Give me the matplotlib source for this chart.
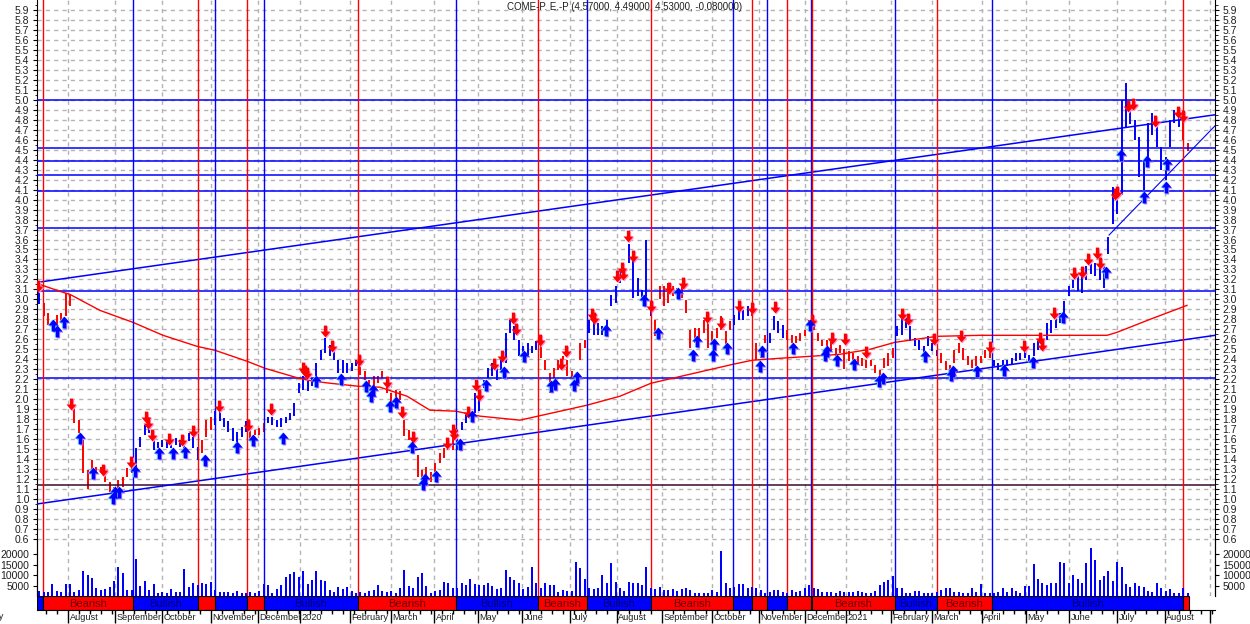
import numpy as np
import matplotlib
matplotlib.use('Agg')
import matplotlib.pyplot as plt
from matplotlib.path import Path
import matplotlib.transforms as mtransforms

plt.rcParams['font.family'] = ['Liberation Sans', 'DejaVu Sans']

title = 'COME-P. E.-P (4.57000, 4.49000, 4.53000, -0.080000)'

# one bar every 2 trading days (low / high)
bar_lo = [2.95, 2.83, 2.74, 2.71, 2.74, 2.78, 2.83, 2.93, 1.76, 1.66,
          1.26, 1.10, 1.22, 1.26, 1.26, 1.17, 1.07, 1.06, 1.09, 1.12,
          1.22, 1.26, 1.32, 1.52, 1.64, 1.66, 1.49, 1.51, 1.52, 1.51,
          1.51, 1.54, 1.52, 1.49, 1.58, 1.51, 1.39, 1.46, 1.62, 1.69,
          1.74, 1.78, 1.72, 1.67, 1.58, 1.56, 1.62, 1.67, 1.59, 1.64,
          1.64, 1.67, 1.76, 1.74, 1.72, 1.72, 1.76, 1.79, 1.83, 2.06,
          2.09, 2.08, 2.13, 2.23, 2.39, 2.46, 2.43, 2.39, 2.26, 2.26,
          2.26, 2.28, 2.33, 2.24, 2.19, 2.13, 2.13, 2.16, 2.21, 2.06,
          1.93, 2.01, 1.99, 1.63, 1.59, 1.53, 1.22, 1.14, 1.19, 1.17,
          1.26, 1.36, 1.41, 1.49, 1.49, 1.49, 1.69, 1.76, 1.81, 1.86,
          1.88, 2.11, 2.21, 2.23, 2.19, 2.29, 2.36, 2.66, 2.59, 2.43,
          2.39, 2.44, 2.46, 2.49, 2.41, 2.29, 2.06, 2.21, 2.29, 2.29,
          2.23, 2.21, 2.16, 2.39, 2.51, 2.66, 2.64, 2.64, 2.64, 2.66,
          2.93, 2.96, 3.16, 3.19, 3.36, 3.01, 3.03, 2.99, 3.00, 2.83,
          2.63, 3.00, 2.93, 2.96, 3.03, 3.03, 3.01, 2.86, 2.51, 2.56,
          2.61, 2.66, 2.51, 2.54, 2.61, 2.69, 2.53, 2.69, 2.74, 2.79,
          2.79, 2.83, 2.83, 2.39, 2.41, 2.56, 2.56, 2.69, 2.66, 2.61,
          2.59, 2.56, 2.56, 2.58, 2.63, 2.69, 2.69, 2.58, 2.53, 2.46,
          2.48, 2.39, 2.46, 2.30, 2.38, 2.36, 2.36, 2.33, 2.31, 2.33,
          2.26, 2.23, 2.31, 2.33, 2.41, 2.63, 2.64, 2.71, 2.58, 2.53,
          2.49, 2.39, 2.53, 2.48, 2.43, 2.36, 2.29, 2.26, 2.36, 2.46,
          2.39, 2.34, 2.31, 2.33, 2.36, 2.41, 2.41, 2.33, 2.29, 2.29,
          2.33, 2.34, 2.38, 2.39, 2.41, 2.38, 2.43, 2.49, 2.53, 2.59,
          2.66, 2.71, 2.76, 2.86, 3.03, 3.11, 3.08, 3.06, 3.19, 3.25,
          3.23, 3.19, 3.11, 3.45, 3.76, 3.86, 4.05, 4.73, 4.76, 4.60,
          4.23, 4.10, 4.40, 4.65, 4.53, 4.30, 4.20, 4.53, 4.77, 4.73,
          4.60, 4.49]
bar_hi = [3.12, 2.96, 2.86, 2.78, 2.84, 2.86, 3.06, 3.04, 1.92, 1.79,
          1.59, 1.29, 1.39, 1.32, 1.32, 1.29, 1.17, 1.12, 1.19, 1.22,
          1.31, 1.37, 1.51, 1.62, 1.74, 1.79, 1.59, 1.57, 1.59, 1.59,
          1.57, 1.61, 1.59, 1.56, 1.66, 1.62, 1.52, 1.59, 1.79, 1.82,
          1.88, 1.88, 1.81, 1.78, 1.71, 1.67, 1.72, 1.78, 1.69, 1.69,
          1.71, 1.76, 1.82, 1.82, 1.79, 1.81, 1.82, 1.86, 1.96, 2.16,
          2.23, 2.18, 2.21, 2.36, 2.49, 2.61, 2.54, 2.48, 2.39, 2.39,
          2.36, 2.36, 2.39, 2.33, 2.28, 2.19, 2.23, 2.23, 2.28, 2.14,
          2.06, 2.09, 2.08, 1.79, 1.69, 1.59, 1.44, 1.29, 1.32, 1.27,
          1.36, 1.46, 1.51, 1.59, 1.62, 1.69, 1.77, 1.86, 1.89, 2.06,
          2.11, 2.19, 2.31, 2.36, 2.33, 2.39, 2.66, 2.79, 2.73, 2.59,
          2.53, 2.56, 2.53, 2.58, 2.53, 2.39, 2.26, 2.31, 2.39, 2.43,
          2.39, 2.28, 2.26, 2.56, 2.59, 2.79, 2.78, 2.76, 2.73, 2.79,
          3.04, 3.13, 3.29, 3.29, 3.56, 3.46, 3.21, 3.09, 3.60, 2.94,
          2.79, 3.13, 3.13, 3.16, 3.13, 3.11, 3.13, 2.99, 2.69, 2.71,
          2.71, 2.79, 2.78, 2.68, 2.71, 2.83, 2.68, 2.78, 2.84, 2.89,
          2.89, 2.93, 2.90, 2.56, 2.49, 2.64, 2.66, 2.83, 2.78, 2.74,
          2.69, 2.64, 2.63, 2.66, 2.69, 2.79, 2.76, 2.66, 2.59, 2.59,
          2.58, 2.51, 2.54, 2.50, 2.48, 2.46, 2.43, 2.41, 2.39, 2.39,
          2.34, 2.29, 2.41, 2.46, 2.51, 2.73, 2.80, 2.81, 2.73, 2.61,
          2.59, 2.53, 2.63, 2.56, 2.49, 2.46, 2.38, 2.34, 2.49, 2.56,
          2.51, 2.43, 2.39, 2.43, 2.43, 2.49, 2.51, 2.39, 2.36, 2.39,
          2.39, 2.41, 2.46, 2.46, 2.48, 2.44, 2.56, 2.58, 2.63, 2.76,
          2.79, 2.83, 2.86, 2.98, 3.13, 3.19, 3.23, 3.23, 3.33, 3.35,
          3.36, 3.33, 3.33, 3.63, 4.13, 4.08, 5.00, 5.17, 4.98, 4.80,
          4.63, 4.40, 4.77, 4.87, 4.77, 4.53, 4.43, 4.80, 4.90, 4.90,
          4.83, 4.57]
# volume per bar, in thousands
volume = [2.5, 2.0, 2.0, 5.7, 2.4, 1.8, 5.7, 5.7, 2.0, 2.9,
          11.9, 10.0, 8.4, 3.6, 2.9, 3.2, 4.1, 7.3, 13.6, 10.8,
          2.9, 2.9, 17.6, 4.7, 7.1, 2.9, 5.5, 1.3, 2.0, 1.6,
          3.2, 2.0, 2.0, 12.7, 4.4, 6.0, 5.2, 6.3, 5.7, 6.8,
          2.9, 2.0, 2.0, 2.0, 1.6, 2.4, 1.3, 1.3, 1.7, 1.3,
          2.4, 5.7, 5.2, 1.6, 3.2, 5.2, 8.9, 10.5, 11.6, 9.2,
          12.0, 5.7, 7.6, 12.0, 7.6, 7.1, 2.9, 2.0, 4.1, 3.2,
          4.4, 2.4, 1.6, 1.7, 1.3, 2.5, 2.9, 5.2, 2.4, 2.0,
          2.4, 1.3, 3.6, 12.4, 4.7, 3.6, 9.2, 11.1, 4.7, 1.3,
          2.5, 2.9, 6.5, 6.0, 3.6, 3.6, 6.0, 5.2, 7.9, 5.7,
          5.2, 5.2, 6.0, 4.7, 3.2, 3.6, 12.4, 8.9, 7.6, 6.0,
          3.2, 4.4, 14.0, 6.0, 3.6, 6.0, 5.2, 5.2, 2.0, 3.0,
          2.4, 2.5, 16.3, 13.2, 8.1, 3.6, 3.4, 3.6, 10.0, 6.0,
          15.9, 6.8, 4.0, 2.5, 6.8, 6.0, 6.0, 5.2, 14.0, 3.6,
          3.2, 4.4, 2.9, 2.9, 3.2, 2.4, 3.3, 3.6, 2.9, 1.6,
          1.6, 1.3, 1.6, 2.9, 2.0, 21.6, 6.0, 3.6, 4.5, 5.5,
          5.8, 3.6, 4.4, 3.6, 2.9, 1.3, 2.0, 2.9, 2.9, 2.0,
          1.3, 2.9, 2.0, 2.5, 3.6, 5.2, 3.6, 3.2, 2.0, 2.0,
          2.0, 1.6, 2.5, 2.0, 2.0, 2.0, 2.4, 1.7, 1.6, 1.6,
          2.2, 5.2, 6.8, 7.6, 9.7, 3.6, 4.0, 1.3, 1.6, 2.6,
          2.4, 1.3, 1.6, 1.6, 1.8, 2.9, 3.6, 3.6, 1.7, 2.0,
          1.6, 1.6, 3.6, 2.0, 5.7, 1.3, 1.6, 1.3, 1.7, 3.6,
          2.0, 3.6, 2.2, 1.6, 4.7, 4.7, 15.2, 7.9, 6.0, 5.4,
          6.3, 6.0, 16.3, 15.5, 6.0, 10.0, 8.0, 6.0, 15.5, 23.0,
          17.0, 7.6, 9.5, 12.0, 7.3, 16.0, 14.0, 5.5, 4.1, 6.3,
          4.7, 4.1, 2.2, 2.0, 6.0, 3.6, 2.3, 3.2, 1.6, 1.6,
          4.0, 1.6]

# signals (trading-day index, price)
sell_day = [0.45, 15.5, 30.0, 42.6, 49.5, 50.6, 52.1, 60.1, 65.8, 70.8,
            82.9, 96.0, 106.2, 120.8, 122.0, 122.9, 130.9, 134.2, 146.4, 159.0,
            165.9, 170.8, 186.2, 189.0, 189.7, 196.0, 199.5, 200.8, 207.7, 211.5,
            216.2, 217.7, 228.6, 238.2, 240.3, 252.4, 253.2, 263.8, 265.8, 266.5,
            268.8, 271.0, 279.1, 287.4, 293.8, 304.7, 310.9, 319.2, 324.9, 335.5,
            352.1, 361.2, 367.3, 376.8, 393.3, 395.8, 407.9, 420.0, 433.2, 448.6,
            455.9, 456.7, 462.3, 471.4, 474.9, 477.6, 482.0, 483.2, 490.0, 490.8,
            495.8, 498.0, 508.2, 518.8, 520.8]
sell_px = [3.13, 1.95, 1.29, 1.37, 1.82, 1.76, 1.64, 1.60, 1.59, 1.68,
           1.93, 1.74, 1.90, 2.31, 2.28, 2.26, 2.68, 2.53, 2.39, 2.17,
           1.87, 1.62, 1.56, 1.69, 1.65, 1.87, 2.14, 2.04, 2.35, 2.43,
           2.81, 2.70, 2.59, 2.35, 2.48, 2.85, 2.81, 3.23, 3.31, 3.25,
           3.64, 3.43, 2.93, 3.11, 3.16, 2.82, 2.76, 2.93, 2.91, 2.92,
           2.79, 2.61, 2.60, 2.47, 2.85, 2.80, 2.60, 2.63, 2.52, 2.53,
           2.61, 2.54, 2.86, 3.26, 3.27, 3.40, 3.46, 3.36, 4.06, 4.08,
           4.94, 4.96, 4.79, 4.88, 4.84]
buy_day = [7.3, 9.0, 12.4, 19.5, 25.3, 34.4, 35.5, 37.4, 44.5, 55.6,
           62.0, 67.3, 76.4, 91.0, 98.3, 111.7, 126.8, 138.2, 149.5, 151.7,
           152.6, 160.5, 163.2, 170.3, 175.3, 176.4, 181.4, 192.3, 197.6, 204.1,
           212.4, 221.5, 233.5, 235.5, 244.1, 245.3, 258.5, 276.0, 282.1, 291.5,
           298.3, 299.9, 307.1, 307.9, 313.8, 328.6, 329.4, 343.8, 351.4, 358.2,
           359.2, 363.5, 371.5, 382.9, 384.4, 403.6, 415.3, 416.2, 427.1, 439.5,
           452.9, 466.5, 485.8, 492.6, 503.3, 504.7, 513.0, 513.5]
buy_px = [2.74, 2.68, 2.77, 1.61, 1.26, 1.01, 1.07, 1.07, 1.28, 1.46,
          1.46, 1.47, 1.39, 1.52, 1.59, 1.61, 2.18, 2.20, 2.13, 2.03,
          2.09, 1.93, 1.97, 1.52, 1.15, 1.20, 1.23, 1.55, 1.83, 2.14,
          2.27, 2.43, 2.13, 2.15, 2.14, 2.22, 2.69, 2.99, 2.66, 3.06,
          2.44, 2.58, 2.44, 2.55, 2.51, 2.33, 2.48, 2.51, 2.74, 2.44,
          2.48, 2.39, 2.35, 2.18, 2.21, 2.43, 2.24, 2.28, 2.28, 2.29,
          2.37, 2.82, 3.27, 4.45, 4.03, 4.39, 4.13, 4.36]

# trend regime switches (red line = to bearish, blue line = to bullish)
switch_day = [2.7, 43.6, 73.2, 80.9, 95.5, 103.2, 145.9, 190.5, 227.7, 250.0,
              279.1, 316.4, 325.0, 331.8, 340.9, 351.8, 352.3, 390.0, 409.1, 434.1,
              520.9]
band_end = 523.6

level_px = [4.998, 4.514, 4.387, 4.244, 4.083, 3.712, 3.084, 2.209]
support_px = 1.137

ma_day = [0, 10.5, 15, 28.6, 43.6, 57.3, 72.7, 80.9, 95.5, 103.6,
          118.2, 125.5, 133.2, 145.9, 155.9, 168.2, 178.6, 190.3, 201.4, 219.5,
          227.7, 250, 265, 279.1, 316.4, 325, 337.7, 351.8, 365, 378.6,
          390, 409.1, 428.6, 455.9, 486.4, 490.9, 505.9, 522.7]
ma_px = [3.16, 3.08, 3.05, 2.89, 2.77, 2.64, 2.53, 2.49, 2.38, 2.31,
         2.215, 2.18, 2.16, 2.13, 2.12, 2.03, 1.89, 1.88, 1.83, 1.79,
         1.83, 1.94, 2.03, 2.16, 2.35, 2.39, 2.41, 2.43, 2.45, 2.50,
         2.57, 2.63, 2.64, 2.64, 2.64, 2.67, 2.80, 2.94]

chan_day = [0, 535.5]
chan_top = [3.17, 4.85]
chan_bot = [0.95, 2.64]
short_day = [487.3, 535.5]
short_px = [3.645, 4.74]

month_day = [14.1, 35.5, 56.8, 79.1, 100.5, 119.5, 142.3, 160.9, 180.5, 200.5,
             220.5, 242.3, 263.6, 284.1, 306.8, 328.2, 349.1, 367.7, 388.2, 406.8,
             429.5, 449.5, 469.1, 490.9, 512.7, 533.2]
month_lbl = ['August', 'September', 'October', 'November', 'December', '2020',
             'February', 'March', 'April', 'May', 'June', 'July', 'August',
             'September', 'October', 'November', 'December', '2021', 'February',
             'March', 'April', 'May', 'June', 'July', 'August', '']

RED = '#ff0000'
BLUE = '#0000ff'
TXT = '#1e1e1e'
W, H = 1250, 624


def box(x0, y0, x1, y1):
    return [x0 / W, 1 - y1 / H, (x1 - x0) / W, (y1 - y0) / H]


def bearish(d):
    return np.searchsorted(switch_day, d, side='right') % 2 == 1


fig = plt.figure(figsize=(12.5, 6.24), dpi=100)
XMAX = (1215 - 37) / 2.2

# ---- price pane
ax = fig.add_axes(box(37, 0, 1215, 596))
ax.set_xlim(0, XMAX)
ax.set_ylim(0.028, 6.0)
for d in month_day:
    ax.axvline(d, color='#b4b4b4', lw=1, dashes=(3, 3), zorder=0)
for p in np.arange(6, 60) / 10:
    ax.axhline(p, color='#b4b4b4', lw=1, dashes=(3, 3), zorder=0)

n = len(bar_lo)
bar_day = 1 + 2 * np.arange(n)
bar_col = [RED if bearish(d) else BLUE for d in bar_day]
ax.vlines(bar_day, bar_lo, bar_hi, colors=bar_col, lw=1.4, zorder=3)

for p in level_px:
    ax.axhline(p, color=BLUE, lw=1.1, zorder=4)
ax.axhline(support_px, color='#3a0a2a', lw=1.1, zorder=4)
ax.plot(chan_day, chan_top, color=BLUE, lw=1.1, zorder=4)
ax.plot(chan_day, chan_bot, color=BLUE, lw=1.1, zorder=4)
ax.plot(short_day, short_px, color=BLUE, lw=0.8, zorder=4)
ax.plot(ma_day, ma_px, color=RED, lw=1.0, zorder=4)

for i, d in enumerate(switch_day):
    ax.axvline(d, color=RED if i % 2 == 0 else BLUE, lw=1.0, zorder=4)

# arrows
down = Path([(-0.14, 0.5), (0.14, 0.5), (0.14, 0.0), (0.42, 0.0), (0, -0.5),
             (-0.42, 0.0), (-0.14, 0.0), (-0.14, 0.5)], closed=True)
up = Path([(x, -y) for x, y in down.vertices], closed=True)


def shifted(dx, dy):
    return ax.transData + mtransforms.ScaledTranslation(dx / 100, dy / 100, fig.dpi_scale_trans)


ax.plot(sell_day, sell_px, ls='none', marker=down, ms=8.5, mew=0, color='#ff90d0',
        transform=shifted(1, -1), zorder=5)
ax.plot(sell_day, sell_px, ls='none', marker=down, ms=8.5, mew=0, color=RED, zorder=6)
ax.plot(buy_day, buy_px, ls='none', marker=up, ms=8.5, mew=0, color='#9a70ff',
        transform=shifted(1, -1), zorder=5)
ax.plot(buy_day, buy_px, ls='none', marker=up, ms=8.5, mew=0, color='#60d0ff',
        transform=shifted(-1, 0), zorder=5)
ax.plot(buy_day, buy_px, ls='none', marker=up, ms=8.5, mew=0, color=BLUE, zorder=6)

yt = np.round(np.arange(6, 60) / 10, 1)
ax.set_yticks(yt)
ax.set_yticklabels([f'{v:.1f}' for v in yt])
ax.set_yticks(yt + 0.05, minor=True)
ax.tick_params(axis='y', which='major', left=True, right=True, labelleft=True,
               labelright=True, labelsize=7.5, length=3, pad=2.5, labelcolor=TXT)
ax.tick_params(axis='y', which='minor', left=True, right=True, length=1.8)
ax.tick_params(axis='x', which='both', bottom=False, labelbottom=False)
for s in ['top', 'bottom']:
    ax.spines[s].set_visible(False)

# ---- volume pane
vax = fig.add_axes(box(37, 540, 1215, 596))
vax.patch.set_alpha(0)
vax.set_xlim(0, XMAX)
vax.set_ylim(0, 56 * 0.4762)
vax.bar(bar_day, volume, width=0.9, color=BLUE, lw=0)
vax.set_yticks([5, 10, 15, 20])
vax.set_yticklabels(['5000', '10000', '15000', '20000'])
vax.tick_params(axis='y', left=True, right=True, labelleft=True, labelright=True,
                labelsize=7.5, length=3, pad=2.5, labelcolor=TXT)
vax.tick_params(axis='x', bottom=False, labelbottom=False)
for s in ['top', 'bottom']:
    vax.spines[s].set_visible(False)

# ---- trend band
bax = fig.add_axes(box(37, 596, 1215, 610))
bax.set_xlim(0, XMAX)
bax.set_ylim(0, 1)
edges = [0] + switch_day + [band_end]
for i in range(len(edges) - 1):
    a, b = edges[i], edges[i + 1]
    bear = i % 2 == 1
    bax.bar(a, 1, width=b - a, align='edge', color=RED if bear else BLUE,
            edgecolor='black', lw=0.8)
    if b - a >= 18:
        bax.text((a + b) / 2, 0.45, 'Bearish' if bear else 'Bullish', ha='center',
                 va='center', fontsize=8, color='black', alpha=0.6)
bax.set_xticks(month_day)
bax.set_xticklabels([])
bax.set_xticks(np.arange(4.1, XMAX, 5), minor=True)
bax.tick_params(axis='x', which='major', length=9, width=1)
bax.tick_params(axis='x', which='minor', length=3, width=1)
bax.set_yticks([])
for s in ['top', 'left', 'right']:
    bax.spines[s].set_visible(False)

lbl_tr = bax.get_xaxis_transform() + mtransforms.ScaledTranslation(1.5 / 100, 0, fig.dpi_scale_trans)
for d, t in zip(month_day, month_lbl):
    bax.text(d, -0.2, t, transform=lbl_tr, ha='left', va='top', fontsize=6.6, color=TXT)
fig.text(4 / W, 1 - 612 / H, 'July', ha='right', va='top', fontsize=6.6, color=TXT)

fig.text(625 / W, 1 - 7 / H, title, ha='center', va='center', fontsize=7, color=TXT)

fig.savefig('out.png', dpi=100)
